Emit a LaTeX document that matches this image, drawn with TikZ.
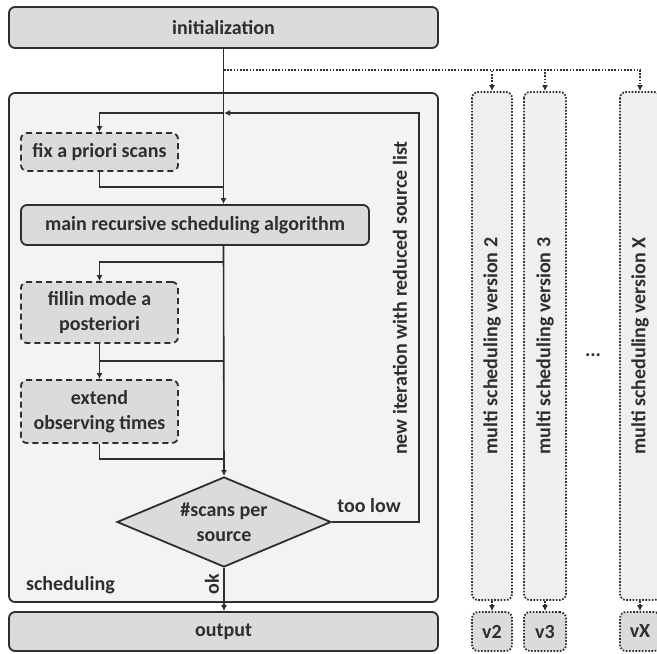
\documentclass[tikz,border=0pt]{standalone}
\usepackage{fontspec}
\setmainfont{Carlito}
\usetikzlibrary{shapes.geometric,arrows.meta}
\definecolor{ink}{HTML}{2E2E2E}
\definecolor{boxgray}{HTML}{DADBDD}
\definecolor{bggray}{HTML}{F2F3F4}
\definecolor{vergray}{HTML}{EFEFEF}
\tikzset{
  every node/.style={font=\bfseries\fontsize{10}{12.5}\selectfont, text=ink},
  solidbox/.style={draw=ink, line width=0.9pt, fill=boxgray, rounded corners=3pt, align=center, inner sep=0pt},
  dashbox/.style={solidbox, dash pattern=on 3pt off 2pt},
  dotbox/.style={draw=ink, line width=0.9pt, dash pattern=on 0.8pt off 0.8pt, rounded corners=3pt, inner sep=0pt},
  flow/.style={draw=ink, line width=0.8pt},
  tip/.style={-{Latex[length=3pt,width=3pt]}},
  dotline/.style={draw=ink, line width=0.9pt, dash pattern=on 0.8pt off 0.8pt}
}
\begin{document}
\begin{tikzpicture}[x=0.5pt,y=-0.5pt]
\clip (0,0) rectangle (657,653);
\fill[white] (0,0) rectangle (657,653);
% scheduling block
\node[draw=ink, line width=0.9pt, fill=bggray, rounded corners=3pt, minimum width=214.5pt, minimum height=254.5pt] (sched) at (223.5,347.5) {};
\node[anchor=west] (schedlbl) at (19,585) {scheduling};
% main flow
\node[solidbox, minimum width=214.5pt, minimum height=20.5pt] (init) at (223.5,27.5) {initialization};
\node[dashbox, minimum width=78.5pt, minimum height=19pt] (fix) at (99.5,152) {fix a priori scans};
\node[solidbox, minimum width=174pt, minimum height=20pt] (main) at (195,225) {main recursive scheduling algorithm};
\node[dashbox, minimum width=78.5pt, minimum height=30.5pt] (fillin) at (99.5,312.5) {fillin mode a\\posteriori};
\node[dashbox, minimum width=78.5pt, minimum height=31.5pt] (extend) at (99.5,411.5) {extend\\observing times};
\node[diamond, draw=ink, line width=0.9pt, fill=boxgray, align=center, inner sep=0pt, aspect=2.4, minimum width=107pt, minimum height=45pt] (chk) at (224,522) {\#scans per\\source};
\node[solidbox, minimum width=214.5pt, minimum height=19.5pt] (output) at (223.5,631.5) {output};
\coordinate (loopL) at (224,113);
\coordinate (loopR) at (419,113);
\coordinate (join1) at (224,187);
\coordinate (fork2) at (224,262);
\coordinate (join2) at (224,361);
\coordinate (join3) at (224,459);
\coordinate (split) at (224,70);
\draw[flow, tip] (init.south) -- (init.south |- main.north);
\draw[flow, tip] (chk.east) -| (loopR) -- (loopL);
\draw[flow, tip] (loopL) -| (fix.north);
\draw[flow] (fix.south) |- (join1);
\draw[flow, tip] (init.south |- main.south) -- (chk.north);
\draw[flow, tip] (fork2) -| (fillin.north);
\draw[flow] (fillin.south) |- (join2);
\draw[flow, tip] (fillin.south) -- (extend.north);
\draw[flow] (extend.south) |- (join3);
\draw[flow, tip] (chk.south) -- (chk.south |- output.north);
\node (toolow) at (369,506) {too low};
\node[rotate=90] (oklbl) at (212,584) {ok};
\node[rotate=90] (iterlbl) at (400,298) {new iteration with reduced source list};
% other versions
\foreach \n/\x/\w in {2/492/20,3/545/21,X/640/20}{
  \node[dotbox, fill=vergray, rotate=90, minimum width=254pt, minimum height=\w pt] (ver\n) at (\x,346) {multi scheduling version \n};
  \node[dotbox, fill=boxgray, minimum width=\w pt, minimum height=19.5pt] (out\n) at (\x,631.5) {v\n};
  \draw[dotline, tip] (split) -| (ver\n.east);
  \draw[dotline, tip] (ver\n.west) -- (out\n.north);
}
\node (dots) at (593,355) {...};
\end{tikzpicture}
\end{document}
